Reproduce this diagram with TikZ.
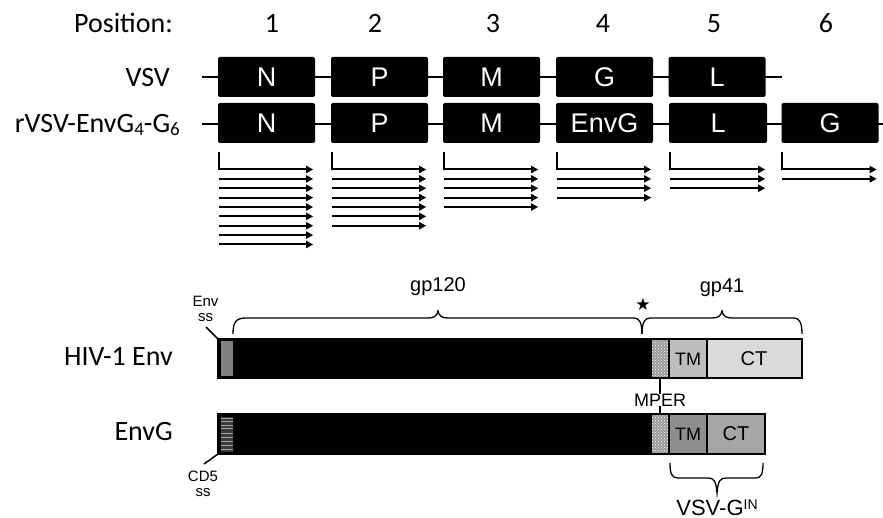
\documentclass[tikz,border=0pt]{standalone}
\usepackage{fontspec}
\setmainfont{Carlito}
\newfontfamily\arialf{Liberation Sans}
\newfontfamily\symf{DejaVu Sans}
\usetikzlibrary{arrows.meta,patterns}
\definecolor{envss}{HTML}{808080}
\definecolor{tmA}{HTML}{BDBDBD}
\definecolor{ctA}{HTML}{DADADA}
\definecolor{tmB}{HTML}{8E8E8E}
\definecolor{ctB}{HTML}{A6A6A6}
\definecolor{mperc}{HTML}{9A9A9A}
\definecolor{cdfive}{HTML}{3C3C3C}
\newcommand\gsubs[1]{\raisebox{-3pt}{\fontsize{19}{19}\selectfont #1}}
\begin{document}
\begin{tikzpicture}[x=1pt,y=-1pt,
  gene/.style={fill=black,rounded corners=2pt,minimum width=97pt,minimum height=40pt,inner sep=0pt,text=white,font=\arialf\fontsize{27}{27}\selectfont},
  lbl/.style={font=\fontsize{28}{30}\selectfont,inner sep=0pt},
  genome/.style={line width=2.8pt},
  tx/.style={line width=2pt,-{Triangle[length=7pt,width=7pt]}},
  small/.style={font=\arialf\fontsize{18}{19}\selectfont,inner sep=0pt},
  ssl/.style={font=\arialf\fontsize{15}{15}\selectfont,inner sep=0pt,align=center},
  mid/.style={font=\arialf\fontsize{20}{22}\selectfont,inner sep=0pt},
  brace/.style={line width=1.3pt},
  seg/.style={line width=1.5pt},
]
\useasboundingbox (0,0) rectangle (883,518);

% ---------- top: genomes ----------
\node[lbl,anchor=base east] (pos) at (173,33) {Position:};
\foreach \x/\t in {272/1,375/2,493/3,603/4,714/5,826/6}
  \node[lbl,anchor=base] (p\t) at (\x,33) {\t};

\node[lbl,anchor=base east] (vsvl) at (170,87) {VSV};
\node[lbl,anchor=base east] (rvsvl) at (180,133) {rVSV-EnvG\gsubs{4}-G\gsubs{6}};

\coordinate (v0) at (202,77);
\coordinate (v1) at (782,77);
\coordinate (w0) at (202,124);
\coordinate (w1) at (883,124);
\draw[genome] (v0) -- (v1);
\draw[genome] (w0) -- (w1);

\node[gene] (v1g) at (266.5,77) {N};
\node[gene] (v2g) at (379.5,77) {P};
\node[gene] (v3g) at (491.5,77) {M};
\node[gene] (v4g) at (604.5,77) {G};
\node[gene] (v5g) at (717,77) {L};

\node[gene] (r1) at (266.5,123) {N};
\node[gene] (r2) at (379.5,123) {P};
\node[gene] (r3) at (491.5,123) {M};
\node[gene] (r4) at (604.5,123) {EnvG};
\node[gene,minimum width=98pt] (r5) at (718,123) {L};
\node[gene] (r6) at (830,123) {G};

% transcripts
\foreach \g/\m in {r1/8,r2/6,r3/4,r4/3,r5/2,r6/1}{
  \draw[tx] ([shift={(1,9)}]\g.south west) |- ([shift={(-2,26.3)}]\g.south east);
  \foreach \j in {1,...,\m}
    \draw[tx] ([shift={(1,{26.3+\j*9.375})}]\g.south west) -- ([shift={(-2,{26.3+\j*9.375})}]\g.south east);
}

% ---------- bottom: Env constructs ----------
\node[lbl,anchor=base east] (hivl) at (173,365) {HIV-1 Env};
\node[lbl,anchor=base east] (envgl) at (173,440) {EnvG};

% HIV-1 Env bar
\fill[black] (218,339) rectangle (652,378);
\fill[envss] (220.5,341.5) rectangle (233,375.5);
\fill[mperc] (652,339) rectangle (669,378);
\fill[pattern=crosshatch dots,pattern color=white] (652,339) rectangle (669,378);
\filldraw[seg,fill=tmA] (669,339) rectangle (707,378);
\filldraw[seg,fill=ctA] (707,339) rectangle (802,378);
\draw[line width=2pt] (218,339) rectangle (802,378);
\coordinate (envNW) at (218,339);
\coordinate (envmperS) at (660,378);
\node[small,anchor=base] (tmAl) at (688,366) {TM};
\node[mid,anchor=base] (ctAl) at (754,366) {CT};

% EnvG bar
\fill[black] (218,414) rectangle (652,454);
\fill[cdfive] (220.5,416.5) rectangle (233,452);
\foreach \yy in {418,421,425,428.5,433,437,441.5,445,449}
  \draw[gray!70,line width=0.8pt] (220.5,\yy) -- (233,\yy);
\fill[mperc] (652,414) rectangle (669,454);
\fill[pattern=crosshatch dots,pattern color=white] (652,414) rectangle (669,454);
\filldraw[seg,fill=tmB] (669,414) rectangle (707,454);
\filldraw[seg,fill=ctB] (707,414) rectangle (765,454);
\draw[line width=2pt] (218,414) rectangle (765,454);
\coordinate (envgSW) at (218,454);
\coordinate (envgmperN) at (660,414);
\node[small,anchor=base] (tmBl) at (688,440) {TM};
\node[mid,anchor=base] (ctBl) at (736,440) {CT};

% signal sequence labels
\node[ssl] (envssl) at (205.5,309) {Env\\ss};
\coordinate (envssA) at (206,327);
\draw[line width=1.5pt] (envssA) -- (envNW);
\node[ssl] (cd5l) at (203,484) {CD5\\ss};
\coordinate (cd5A) at (204,464);
\draw[line width=1.5pt] (envgSW) -- (cd5A);

% MPER
\node[small,anchor=base] (mper) at (660,406) {MPER};
\draw[line width=1.2pt] (envmperS) -- ([yshift=-1pt]mper.north -| envmperS);
\draw[line width=1.2pt] (envgmperN) -- (mper.south -| envgmperN);

% braces
\draw[brace] (233,334) .. controls (233,322) and (236,318) .. (246,318)
  -- (428,318) .. controls (434,318) and (437,316) .. (438,311)
  .. controls (439,316) and (442,318) .. (448,318)
  -- (634,318) .. controls (639,318) and (642,322) .. (642,334);
\draw[brace] (642,334) .. controls (642,322) and (645,318) .. (650,318)
  -- (712,318) .. controls (718,318) and (721,316) .. (722,311)
  .. controls (723,316) and (726,318) .. (732,318)
  -- (794,318) .. controls (799,318) and (802,322) .. (802,334);
\node[mid,anchor=base] (gp120) at (438,292) {gp120};
\node[mid,anchor=base] (gp41) at (722,293) {gp41};
\node[inner sep=0pt,font=\symf\fontsize{17}{17}\selectfont] (star) at (643,304) {★};

\draw[brace] (670,463) .. controls (670,474) and (672,478) .. (678,478)
  -- (708,478) .. controls (714,478) and (716,481) .. (717,493)
  .. controls (718,481) and (720,478) .. (726,478)
  -- (756,478) .. controls (761,478) and (763,474) .. (763,463);
\node[inner sep=0pt,anchor=base,font=\arialf\fontsize{22}{22}\selectfont] (vsvgin) at (717,515) {VSV-G\raisebox{6pt}{\fontsize{14}{14}\selectfont IN}};
\end{tikzpicture}
\end{document}
